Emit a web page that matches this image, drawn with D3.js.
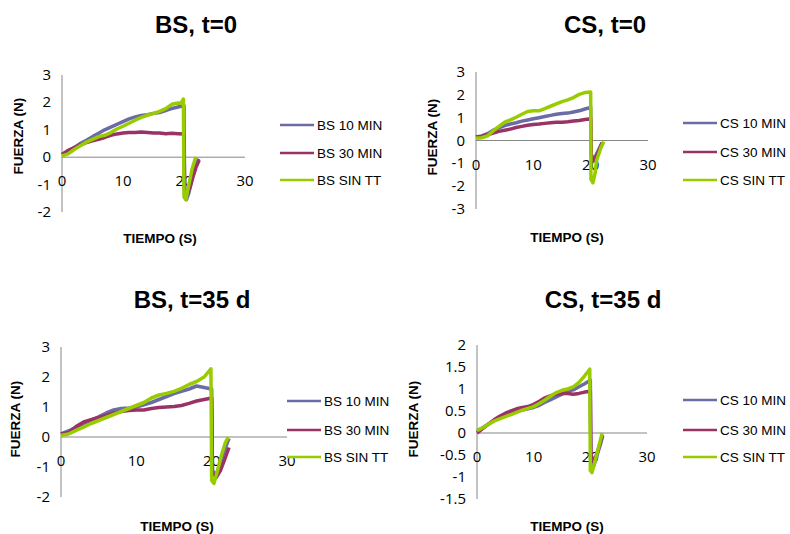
<!DOCTYPE html>
<html>
<head>
<meta charset="utf-8">
<script src="https://cdn.jsdelivr.net/npm/d3@7"></script>
<style>
  body { margin: 0; background: #fff; }
  svg { display: block; }
  .tick-label { font-family: "Open Sans", sans-serif; font-size: 15px; fill: #000; }
  .title { font-family: "Liberation Sans", Arial, sans-serif; font-size: 24px; font-weight: bold; }
  .axis-title { font-family: "Liberation Sans", Arial, sans-serif; font-size: 13.5px; font-weight: bold; }
  .legend-text { font-family: "Liberation Sans", Arial, sans-serif; font-size: 13.5px; }
</style>
</head>
<body>
<svg id="chart" width="790" height="534"></svg>
<script>
// series colours (Excel style)
const COLORS = ["#6B6BA6", "#993366", "#99CC00"];

// BS, t=0  -- [tiempo (s), fuerza (N)]
const bs0_10 = [[0,0.1],[1,0.2],[2,0.35],[3,0.5],[4,0.62],[5,0.75],[6,0.87],[7,1.0],[8,1.1],[9,1.2],[10,1.3],[11,1.4],[12,1.47],[13,1.52],[14,1.55],[15,1.6],[16,1.63],[17,1.7],[18,1.78],[19,1.83],[20,1.88],[20.1,-1.3],[20.4,-1.55],[20.8,-1.3],[21.3,-0.8],[21.8,-0.4],[22.4,-0.05]];
const bs0_30 = [[0,0.1],[1,0.25],[2,0.35],[3,0.45],[4,0.53],[5,0.6],[6,0.65],[7,0.72],[8,0.8],[9,0.85],[10,0.88],[11,0.9],[12,0.9],[13,0.92],[14,0.9],[15,0.88],[16,0.88],[17,0.86],[18,0.87],[19,0.86],[20,0.85],[20.1,-1.2],[20.4,-1.4],[21,-1.1],[21.5,-0.7],[22,-0.35],[22.5,-0.1]];
const bs0_sin = [[0,0.05],[1,0.12],[2,0.28],[3,0.42],[4,0.55],[5,0.65],[6,0.75],[7,0.8],[8,0.9],[9,1.03],[10,1.13],[11,1.24],[12,1.35],[13,1.45],[14,1.53],[15,1.6],[16,1.67],[17,1.77],[18,1.93],[19,1.98],[19.5,1.97],[19.9,2.12],[20.0,-1.45],[20.3,-1.55],[20.8,-1.0],[21.3,-0.45],[21.8,-0.08],[22,0]];

// CS, t=0
const cs0_10 = [[0,0.15],[1,0.2],[2,0.3],[3,0.45],[4,0.55],[5,0.65],[6,0.72],[7,0.78],[8,0.85],[9,0.9],[10,0.95],[11,1.0],[12,1.05],[13,1.1],[14,1.15],[15,1.18],[16,1.2],[17,1.25],[18,1.3],[19,1.38],[20,1.45],[20.1,-0.6],[20.5,-0.85],[21,-0.6],[21.5,-0.35],[22,-0.1]];
const cs0_30 = [[0,0.15],[1,0.18],[2,0.25],[3,0.33],[4,0.4],[5,0.45],[6,0.5],[7,0.57],[8,0.62],[9,0.67],[10,0.7],[11,0.72],[12,0.75],[13,0.78],[14,0.8],[15,0.8],[16,0.82],[17,0.85],[18,0.88],[19,0.92],[20,0.95],[20.1,-0.7],[20.5,-0.9],[21,-0.7],[21.5,-0.4],[22,-0.1]];
const cs0_sin = [[0,0.1],[1,0.12],[2,0.2],[3,0.42],[4,0.62],[5,0.8],[6,0.9],[7,1.02],[8,1.15],[9,1.27],[10,1.3],[11,1.3],[12,1.4],[13,1.5],[14,1.6],[15,1.7],[16,1.78],[17,1.88],[18,2.02],[19,2.1],[20,2.12],[20.05,-1.7],[20.4,-1.85],[20.8,-1.4],[21,-0.9],[21.4,-0.6],[21.8,-0.3],[22.3,-0.05]];

// BS, t=35 d
const bs35_10 = [[0,0.1],[1,0.2],[2,0.32],[3,0.45],[4,0.56],[5,0.67],[6,0.8],[7,0.9],[8,0.95],[9,0.97],[10,1.0],[11,1.07],[12,1.15],[13,1.25],[14,1.35],[15,1.45],[16,1.52],[17,1.6],[18,1.7],[19,1.65],[20,1.6],[20.1,-1.1],[20.5,-1.3],[21,-1.0],[21.5,-0.6],[22,-0.25],[22.3,-0.05]];
const bs35_30 = [[0,0.1],[1,0.15],[2,0.35],[3,0.5],[4,0.58],[5,0.65],[6,0.72],[7,0.8],[8,0.85],[9,0.88],[10,0.9],[11,0.9],[12,0.95],[13,0.98],[14,1.0],[15,1.02],[16,1.05],[17,1.12],[18,1.2],[19,1.25],[20,1.3],[20.1,-1.2],[20.6,-1.35],[21.2,-1.1],[21.8,-0.7],[22.3,-0.35]];
const bs35_sin = [[0,0.05],[1,0.1],[2,0.22],[3,0.33],[4,0.45],[5,0.55],[6,0.65],[7,0.75],[8,0.85],[9,0.95],[10,1.05],[11,1.15],[12,1.3],[13,1.4],[14,1.45],[15,1.52],[16,1.62],[17,1.75],[18,1.85],[19,2.0],[19.9,2.27],[20.0,-1.45],[20.3,-1.55],[20.8,-1.1],[21.3,-0.6],[21.8,-0.2],[22.2,0]];

// CS, t=35 d
const cs35_10 = [[0,0.05],[1,0.12],[2,0.2],[3,0.28],[4,0.35],[5,0.4],[6,0.45],[7,0.5],[8,0.52],[9,0.55],[10,0.58],[11,0.63],[12,0.7],[13,0.76],[14,0.82],[15,0.88],[16,0.95],[17,0.98],[18,1.05],[19,1.12],[20,1.2],[20.1,-0.6],[20.6,-0.75],[21.2,-0.5],[21.8,-0.25],[22.2,-0.05]];
const cs35_30 = [[0,0],[1,0.1],[2,0.2],[3,0.3],[4,0.38],[5,0.45],[6,0.5],[7,0.55],[8,0.58],[9,0.6],[10,0.65],[11,0.72],[12,0.8],[13,0.85],[14,0.88],[15,0.9],[16,0.9],[17,0.88],[18,0.9],[19,0.93],[20,0.95],[20.1,-0.5],[20.6,-0.65],[21.2,-0.45],[21.8,-0.2],[22.1,-0.05]];
const cs35_sin = [[0,0.05],[1,0.12],[2,0.2],[3,0.27],[4,0.32],[5,0.37],[6,0.42],[7,0.47],[8,0.52],[9,0.56],[10,0.6],[11,0.67],[12,0.75],[13,0.84],[14,0.92],[15,0.97],[16,1.0],[17,1.05],[18,1.15],[19,1.3],[19.9,1.45],[20.0,-0.85],[20.3,-0.9],[20.8,-0.65],[21.3,-0.4],[21.8,-0.15],[22.1,0]];

const xTicks = [0, 10, 20, 30];
const yTicksA = [3, 2, 1, 0, -1, -2];
const yTicksB = [3, 2, 1, 0, -1, -2, -3];
const yTicksC = [2, 1.5, 1, 0.5, 0, -0.5, -1, -1.5];

const svg = d3.select("#chart");

function panel(opts) {
    const g = svg.append("g");
    const x = d3.scaleLinear().domain([0, 30]).range([opts.x0, opts.x1]);
    const y = d3.scaleLinear().domain(d3.extent(opts.yTicks)).range([opts.yBottom, opts.yTop]);

    // axes (Excel style: grey lines, no tick marks)
    g.append("line")
        .attr("x1", x(0)).attr("x2", x(0))
        .attr("y1", y(d3.max(opts.yTicks))).attr("y2", y(d3.min(opts.yTicks)))
        .attr("stroke", "#868686");
    g.append("line")
        .attr("x1", x(0)).attr("x2", x(30))
        .attr("y1", y(0)).attr("y2", y(0))
        .attr("stroke", "#868686");

    g.selectAll(".yl").data(opts.yTicks).enter().append("text")
        .attr("class", "tick-label")
        .attr("x", x(0) - 11)
        .attr("y", d => y(d) + 5)
        .attr("text-anchor", "end")
        .text(d => d);

    g.selectAll(".xl").data(xTicks).enter().append("text")
        .attr("class", "tick-label")
        .attr("x", d => x(d))
        .attr("y", y(0) + 29)
        .attr("text-anchor", "middle")
        .text(d => d);

    const line = d3.line().x(d => x(d[0])).y(d => y(d[1]));
    opts.series.forEach(function(s, i) {
        g.append("path")
            .datum(s)
            .attr("fill", "none")
            .attr("stroke", COLORS[i])
            .attr("stroke-width", 3.5)
            .attr("stroke-linejoin", "round")
            .attr("d", line);
    });

    // title
    g.append("text").attr("class", "title")
        .attr("x", opts.titleX).attr("y", opts.titleY)
        .attr("text-anchor", "middle")
        .text(opts.title);

    // axis titles
    g.append("text").attr("class", "axis-title")
        .attr("x", opts.xtX).attr("y", opts.xtY)
        .attr("text-anchor", "middle")
        .text("TIEMPO (S)");
    g.append("text").attr("class", "axis-title")
        .attr("transform", "translate(" + opts.ytX + "," + opts.ytY + ") rotate(-90)")
        .attr("text-anchor", "middle")
        .text("FUERZA (N)");

    // legend
    opts.names.forEach(function(n, i) {
        const ly = opts.legY[i];
        g.append("line")
            .attr("x1", opts.legX).attr("x2", opts.legX + 34)
            .attr("y1", ly).attr("y2", ly)
            .attr("stroke", COLORS[i]).attr("stroke-width", 2.5);
        g.append("text").attr("class", "legend-text")
            .attr("x", opts.legX + 37).attr("y", ly + 5)
            .text(n);
    });
}

panel({
    title: "BS, t=0", titleX: 196, titleY: 33,
    x0: 62, x1: 245, yTop: 75, yBottom: 212, yTicks: yTicksA,
    series: [bs0_10, bs0_30, bs0_sin],
    names: ["BS 10 MIN", "BS 30 MIN", "BS SIN TT"],
    legX: 280, legY: [125, 153, 180],
    xtX: 160, xtY: 243, ytX: 23, ytY: 136
});
panel({
    title: "CS, t=0", titleX: 605, titleY: 33,
    x0: 476, x1: 648, yTop: 72, yBottom: 209, yTicks: yTicksB,
    series: [cs0_10, cs0_30, cs0_sin],
    names: ["CS 10 MIN", "CS 30 MIN", "CS SIN TT"],
    legX: 683, legY: [123, 152, 180],
    xtX: 567, xtY: 242, ytX: 437, ytY: 137
});
panel({
    title: "BS, t=35 d", titleX: 192, titleY: 308,
    x0: 61, x1: 287, yTop: 347, yBottom: 497, yTicks: yTicksA,
    series: [bs35_10, bs35_30, bs35_sin],
    names: ["BS 10 MIN", "BS 30 MIN", "BS SIN TT"],
    legX: 287, legY: [401, 430, 457],
    xtX: 177, xtY: 531, ytX: 20, ytY: 419
});
panel({
    title: "CS, t=35 d", titleX: 603, titleY: 308,
    x0: 477, x1: 647, yTop: 345, yBottom: 499, yTicks: yTicksC,
    series: [cs35_10, cs35_30, cs35_sin],
    names: ["CS 10 MIN", "CS 30 MIN", "CS SIN TT"],
    legX: 683, legY: [400, 430, 457],
    xtX: 567, xtY: 531, ytX: 418, ytY: 419
});
</script>
</body>
</html>
